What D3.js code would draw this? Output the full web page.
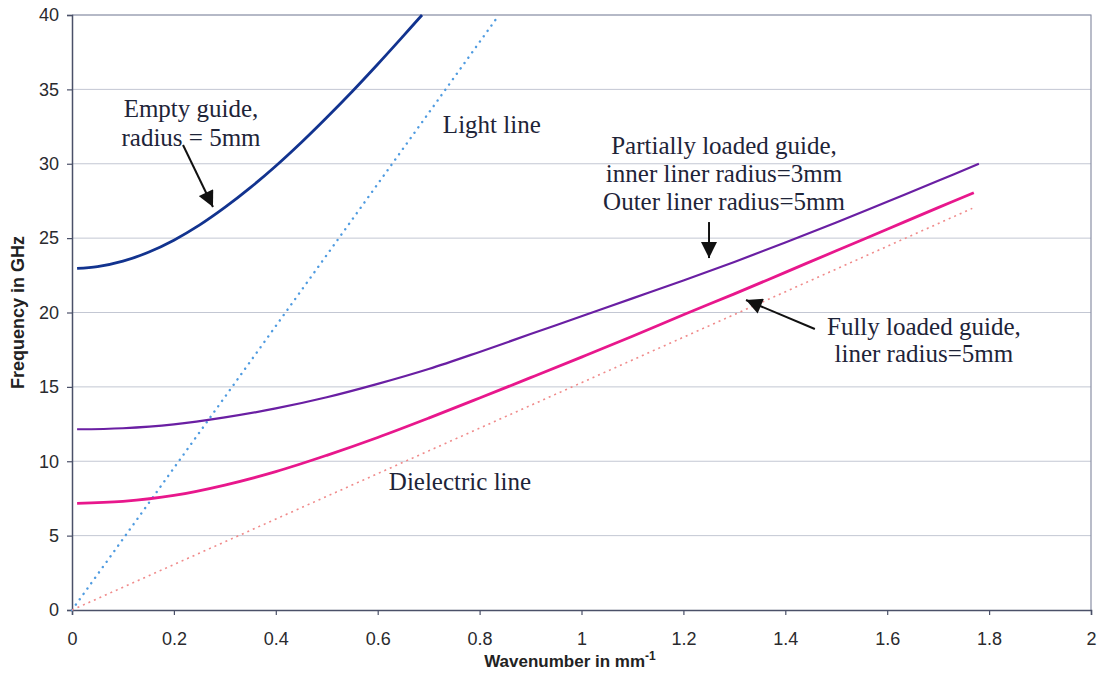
<!DOCTYPE html>
<html><head><meta charset="utf-8">
<script src="https://cdn.jsdelivr.net/npm/d3@7"></script>
<style>
body{margin:0;background:#fff;}
svg{display:block;}
</style></head>
<body>
<svg id="chart" width="1100" height="677"></svg>
<script>
// ---- Data ----
const xTicks = [0, 0.2, 0.4, 0.6, 0.8, 1, 1.2, 1.4, 1.6, 1.8, 2];
const yTicks = [0, 5, 10, 15, 20, 25, 30, 35, 40];

const emptyK = [0.01, 0.05, 0.1, 0.15, 0.2, 0.25, 0.3, 0.35, 0.4, 0.45, 0.5, 0.55, 0.6, 0.65, 0.687];
const emptyF = [22.96, 23.08, 23.45, 24.05, 24.86, 25.87, 27.06, 28.39, 29.85, 31.43, 33.11, 34.86, 36.69, 38.58, 40.0];

const partialK = [0.01, 0.1, 0.2, 0.3, 0.4, 0.5, 0.6, 0.7, 0.8, 0.9, 1.0, 1.1, 1.2, 1.3, 1.4, 1.5, 1.6, 1.7, 1.78];
const partialF = [12.15, 12.22, 12.48, 12.95, 13.55, 14.3, 15.2, 16.2, 17.35, 18.55, 19.75, 20.95, 22.15, 23.4, 24.7, 26.05, 27.45, 28.85, 30.0];

const fullK = [0.01, 0.1, 0.2, 0.3, 0.4, 0.5, 0.6, 0.7, 0.8, 0.9, 1.0, 1.1, 1.2, 1.3, 1.4, 1.5, 1.6, 1.7, 1.77];
const fullF = [7.17, 7.3, 7.7, 8.4, 9.3, 10.4, 11.6, 12.9, 14.25, 15.62, 17.0, 18.4, 19.85, 21.25, 22.7, 24.15, 25.6, 27.05, 28.05];

const lightK = [0, 0.838];
const lightF = [0, 40];

const dielK = [0, 1.767];
const dielF = [0, 27.0];

// ---- Layout ----
const svg = d3.select("#chart");
const x = d3.scaleLinear().domain([0, 2]).range([72, 1091]);
const y = d3.scaleLinear().domain([0, 40]).range([610, 15]);

const tickFont = "'Liberation Sans', Arial, sans-serif";
const serif = "'Liberation Serif', 'Times New Roman', serif";

// gridlines
svg.append("g").selectAll("line").data(yTicks.filter(d => d > 0)).join("line")
  .attr("x1", x(0)).attr("x2", x(2))
  .attr("y1", d => y(d)).attr("y2", d => y(d))
  .attr("stroke", "#c3c7d3").attr("stroke-width", 1);

// plot border (top & right)
svg.append("path")
  .attr("d", `M${x(0)},${y(40)}H${x(2)}V${y(0)}`)
  .attr("fill", "none").attr("stroke", "#8a90a6").attr("stroke-width", 1.2);

// axes
const xAxis = d3.axisBottom(x).tickValues(xTicks).tickSize(5).tickPadding(17)
  .tickFormat(d => d3.format("~g")(d));
const yAxis = d3.axisLeft(y).tickValues(yTicks).tickSize(5).tickPadding(8);

const gx = svg.append("g").attr("transform", `translate(0,${y(0)})`).call(xAxis);
const gy = svg.append("g").attr("transform", `translate(${x(0)},0)`).call(yAxis);
[gx, gy].forEach(g => {
  g.select(".domain").attr("stroke", "#4a5068").attr("stroke-width", 1.5);
  g.selectAll(".tick line").attr("stroke", "#4a5068").attr("stroke-width", 1.2);
  g.selectAll(".tick text").attr("fill", "#2a2a2e")
    .style("font-family", tickFont).style("font-size", "18px");
});

// axis titles
svg.append("text")
  .attr("transform", `translate(24,${(y(0) + y(40)) / 2}) rotate(-90)`)
  .attr("text-anchor", "middle")
  .style("font-family", tickFont).style("font-size", "18px").style("font-weight", "bold")
  .attr("fill", "#222")
  .text("Frequency in GHz");

const xt = svg.append("text")
  .attr("x", 570).attr("y", 667)
  .attr("text-anchor", "middle")
  .style("font-family", tickFont).style("font-size", "17px").style("font-weight", "bold")
  .attr("fill", "#222");
xt.append("tspan").text("Wavenumber in mm");
xt.append("tspan").attr("dy", -7).style("font-size", "12px").text("-1");

// lines
const line = d3.line().x(d => x(d[0])).y(d => y(d[1])).curve(d3.curveCatmullRom.alpha(0.5));
const zip = (a, b) => a.map((v, i) => [v, b[i]]);

svg.append("path").datum(zip(lightK, lightF)).attr("d", line)
  .attr("fill", "none").attr("stroke", "#4f9be0").attr("stroke-width", 2.4)
  .attr("stroke-dasharray", "0.1,6.5").attr("stroke-linecap", "round");
svg.append("path").datum(zip(dielK, dielF)).attr("d", line)
  .attr("fill", "none").attr("stroke", "#f08a8a").attr("stroke-width", 1.6)
  .attr("stroke-dasharray", "2,4");

svg.append("path").datum(zip(emptyK, emptyF)).attr("d", line)
  .attr("fill", "none").attr("stroke", "#12338f").attr("stroke-width", 2.8);
svg.append("path").datum(zip(partialK, partialF)).attr("d", line)
  .attr("fill", "none").attr("stroke", "#6a1fa3").attr("stroke-width", 2.2);
svg.append("path").datum(zip(fullK, fullF)).attr("d", line)
  .attr("fill", "none").attr("stroke", "#e8178c").attr("stroke-width", 2.8);

// annotations
const txtColor = "#1e2438";
function label(lines, kx, fy, lh) {
  const t = svg.append("text").attr("text-anchor", "middle")
    .style("font-family", serif).style("font-size", "25px").attr("fill", txtColor);
  lines.forEach((s, i) => t.append("tspan").attr("x", x(kx)).attr("y", y(fy) + i * lh).text(s));
}
label(["Empty guide,", "radius = 5mm"], 0.2336, 33.14, 29);
label(["Light line"], 0.824, 32.07, 0);
label(["Partially loaded guide,", "inner liner radius=3mm", "Outer liner radius=5mm"], 1.2797, 30.66, 28);
label(["Fully loaded guide,", "liner radius=5mm"], 1.672, 18.49, 27);
label(["Dielectric line"], 0.7615, 8.07, 0);

// arrows
svg.append("defs").append("marker")
  .attr("id", "ah").attr("viewBox", "0 0 10 10").attr("refX", 10).attr("refY", 5)
  .attr("markerWidth", 18).attr("markerHeight", 16).attr("markerUnits", "userSpaceOnUse")
  .attr("orient", "auto")
  .append("path").attr("d", "M0,0L10,5L0,10z").attr("fill", "#111");

const arrows = [
  [[0.2179, 31.26], [0.2767, 27.09]],
  [[1.2503, 26.08], [1.2503, 23.66]],
  [[1.458, 18.89], [1.3229, 20.84]]
];
arrows.forEach(a => {
  svg.append("line")
    .attr("x1", x(a[0][0])).attr("y1", y(a[0][1]))
    .attr("x2", x(a[1][0])).attr("y2", y(a[1][1]))
    .attr("stroke", "#111").attr("stroke-width", 2)
    .attr("marker-end", "url(#ah)");
});
</script>
</body></html>
